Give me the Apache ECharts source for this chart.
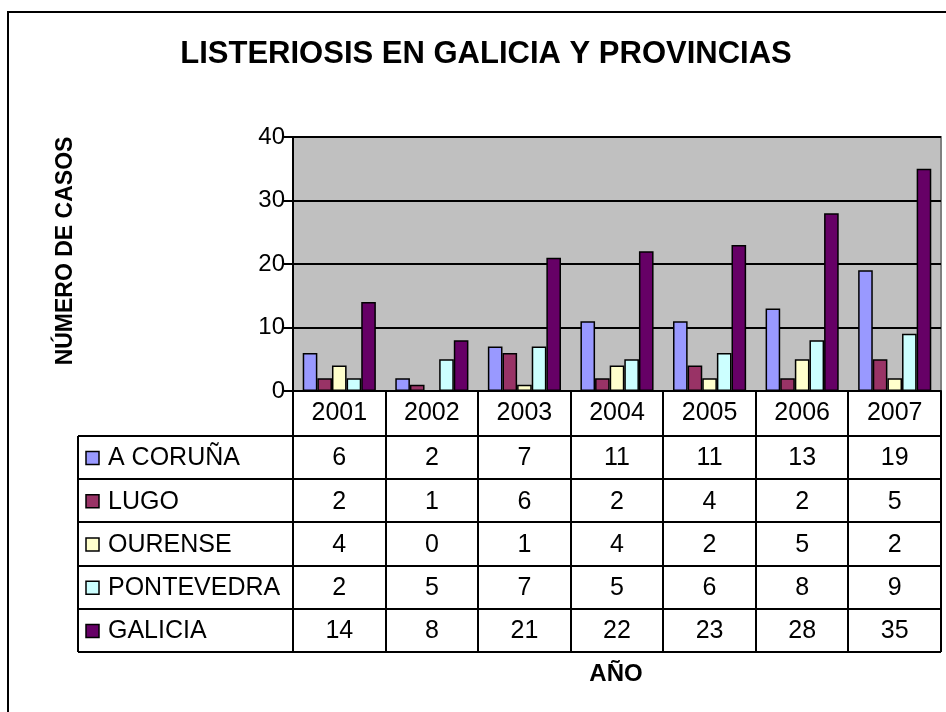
<!DOCTYPE html>
<html>
<head>
<meta charset="utf-8">
<script src="https://cdn.jsdelivr.net/npm/echarts@6/dist/echarts.min.js"></script>
<style>
  html, body { margin: 0; padding: 0; background: #fff; }
  #chart { width: 946px; height: 712px; }
</style>
</head>
<body>
<div id="chart"></div>
<script>
var years = ['2001', '2002', '2003', '2004', '2005', '2006', '2007']
var seriesNames = ['A CORUÑA', 'LUGO', 'OURENSE', 'PONTEVEDRA', 'GALICIA']
var coruna = [6, 2, 7, 11, 11, 13, 19]
var lugo = [2, 1, 6, 2, 4, 2, 5]
var ourense = [4, 0, 1, 4, 2, 5, 2]
var pontevedra = [2, 5, 7, 5, 6, 8, 9]
var galicia = [14, 8, 21, 22, 23, 28, 35]
var yTicks = [0, 10, 20, 30, 40]

var colors = ['#9999FF', '#993366', '#FFFFCC', '#CCFFFF', '#660066']
var allData = [coruna, lugo, ourense, pontevedra, galicia]
var font = 'Liberation Sans, Arial, sans-serif'

var chart = echarts.init(document.getElementById('chart'))

chart.setOption({
  animation: false,
  grid: {
    left: 293,
    right: 5,
    top: 137,
    bottom: 321,
    show: true,
    backgroundColor: '#C0C0C0',
    borderColor: '#808080',
    borderWidth: 2
  },
  xAxis: {
    type: 'category',
    data: years,
    axisLine: { lineStyle: { color: '#000', width: 2 } },
    axisTick: { show: false },
    axisLabel: { color: '#000', fontSize: 25, fontFamily: font, margin: 10 }
  },
  yAxis: {
    type: 'value',
    min: yTicks[0],
    max: yTicks[yTicks.length - 1],
    interval: 10,
    axisLine: { show: true, lineStyle: { color: '#000', width: 2 } },
    axisTick: { show: true, length: 10, lineStyle: { color: '#000', width: 2 } },
    axisLabel: { color: '#000', fontSize: 24, fontFamily: font, margin: 8 },
    splitLine: { lineStyle: { color: '#000', width: 2 } }
  },
  series: seriesNames.map(function (name, i) {
    return {
      name: name,
      type: 'bar',
      data: allData[i],
      barGap: '0%',
      barCategoryGap: '21%',
      itemStyle: { color: colors[i], borderColor: '#000', borderWidth: 1.5 }
    }
  })
})

// data table below the plot
function buildTable() {
  var c0 = chart.convertToPixel({ xAxisIndex: 0 }, 0)
  var c1 = chart.convertToPixel({ xAxisIndex: 0 }, 1)
  var colW = c1 - c0
  var y0 = chart.convertToPixel({ yAxisIndex: 0 }, 0)
  var headH = 45
  var rowH = 43.2
  var tableLeft = 78
  var firstX = c0 - colW / 2
  var lastX = firstX + colW * years.length
  var rowTop = y0 + headH
  var bottom = rowTop + rowH * seriesNames.length
  var lineStyle = { stroke: '#000', lineWidth: 2 }
  var els = []

  // vertical lines
  for (var i = 0; i <= years.length; i++) {
    var x = Math.round(firstX + colW * i)
    els.push({ type: 'line', shape: { x1: x, y1: y0, x2: x, y2: bottom }, style: lineStyle })
  }
  els.push({ type: 'line', shape: { x1: tableLeft, y1: rowTop, x2: tableLeft, y2: bottom }, style: lineStyle })

  // horizontal lines
  for (var r = 0; r <= seriesNames.length; r++) {
    var y = Math.round(rowTop + rowH * r)
    els.push({ type: 'line', shape: { x1: tableLeft, y1: y, x2: lastX, y2: y }, style: lineStyle })
  }

  // legend keys, names and values
  seriesNames.forEach(function (name, r) {
    var cy = rowTop + rowH * r + rowH / 2
    els.push({
      type: 'rect',
      shape: { x: 86, y: cy - 6, width: 13, height: 13 },
      style: { fill: colors[r], stroke: '#000', lineWidth: 1.5 }
    })
    els.push({
      type: 'text', x: 108, y: cy + 1,
      style: { text: name, fill: '#000', font: '25px ' + font, textAlign: 'left', textVerticalAlign: 'middle' }
    })
    allData[r].forEach(function (v, c) {
      els.push({
        type: 'text', x: c0 + colW * c, y: cy + 1,
        style: { text: String(v), fill: '#000', font: '25px ' + font, textAlign: 'center', textVerticalAlign: 'middle' }
      })
    })
  })

  // titles and frame
  els.push({
    type: 'text', x: 486, y: 54,
    style: { text: 'LISTERIOSIS EN GALICIA Y PROVINCIAS', fill: '#000', font: 'bold 31px ' + font, textAlign: 'center', textVerticalAlign: 'middle' }
  })
  els.push({
    type: 'text', x: 66, y: 251, rotation: Math.PI / 2,
    style: { text: 'NÚMERO DE CASOS', fill: '#000', font: 'bold 23px ' + font, textAlign: 'center', textVerticalAlign: 'middle' }
  })
  els.push({
    type: 'text', x: 616, y: 674,
    style: { text: 'AÑO', fill: '#000', font: 'bold 24px ' + font, textAlign: 'center', textVerticalAlign: 'middle' }
  })
  els.push({
    type: 'rect',
    shape: { x: 8, y: 12, width: 960, height: 720 },
    style: { fill: 'none', stroke: '#000', lineWidth: 2 }
  })

  chart.setOption({ graphic: { elements: els } })
}

buildTable()
</script>
</body>
</html>
